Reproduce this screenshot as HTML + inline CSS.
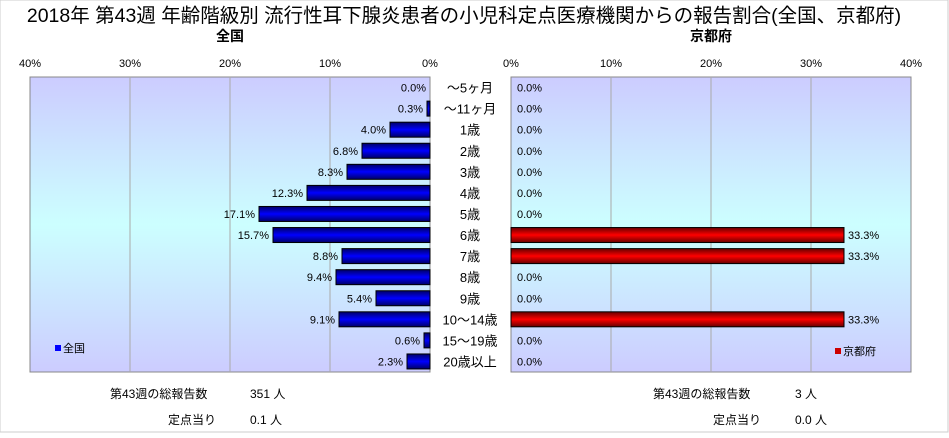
<!DOCTYPE html>
<html><head><meta charset="utf-8"><style>
body{margin:0;background:#fff;font-family:"Liberation Sans","Noto Sans CJK JP",sans-serif;}
svg text{font-family:"Liberation Sans","Noto Sans CJK JP",sans-serif;}
</style></head><body>
<svg id="c" width="949" height="433" xmlns="http://www.w3.org/2000/svg">
<defs>
<linearGradient id="bg" x1="0" y1="0" x2="0" y2="1"><stop offset="0" stop-color="#ccccff"/><stop offset="0.5" stop-color="#ccffff"/><stop offset="1" stop-color="#ccccff"/></linearGradient>
<linearGradient id="gb" x1="0" y1="0" x2="0" y2="1"><stop offset="0" stop-color="#000066"/><stop offset="0.5" stop-color="#0000ff"/><stop offset="1" stop-color="#000066"/></linearGradient>
<linearGradient id="gr" x1="0" y1="0" x2="0" y2="1"><stop offset="0" stop-color="#660000"/><stop offset="0.5" stop-color="#ff0000"/><stop offset="1" stop-color="#660000"/></linearGradient>
</defs>
<rect x="0" y="0" width="948" height="432" fill="#fff" stroke="#ccc"/>
<text x="464" y="22" font-size="19.5" text-anchor="middle">2018年 第43週 年齢階級別 流行性耳下腺炎患者の小児科定点医療機関からの報告割合(全国、京都府)</text>
<text x="230" y="41" font-size="14" text-anchor="middle" font-weight="bold">全国</text>
<text x="711" y="41" font-size="14" text-anchor="middle" font-weight="bold">京都府</text>
<rect x="30" y="77" width="400" height="295" fill="url(#bg)" stroke="#888"/>
<rect x="511" y="77" width="400" height="295" fill="url(#bg)" stroke="#888"/>
<g id="g"></g>
<rect x="55" y="345" width="6" height="6" fill="#0000ff"/>
<text x="63" y="352" font-size="11">全国</text>
<rect x="835" y="348" width="6" height="6" fill="#cc0000"/>
<text x="843" y="355" font-size="11">京都府</text>
<text x="110" y="398" font-size="12">第43週の総報告数</text>
<text x="250" y="398" font-size="12">351 人</text>
<text x="168" y="424" font-size="12">定点当り</text>
<text x="250" y="424" font-size="12">0.1 人</text>
<text x="653" y="398" font-size="12">第43週の総報告数</text>
<text x="795" y="398" font-size="12">3 人</text>
<text x="713" y="424" font-size="12">定点当り</text>
<text x="795" y="424" font-size="12">0.0 人</text>
</svg>
<script>
const categories=["～5ヶ月","～11ヶ月","1歳","2歳","3歳","4歳","5歳","6歳","7歳","8歳","9歳","10～14歳","15～19歳","20歳以上"];
const national=[0.0,0.3,4.0,6.8,8.3,12.3,17.1,15.7,8.8,9.4,5.4,9.1,0.6,2.3];
const kyoto=[0,0,0,0,0,0,0,33.3,33.3,0,0,33.3,0,0];
const ticks=[0,10,20,30,40];
(function(){
const NS="http://www.w3.org/2000/svg";
const g=document.getElementById('g');
const L0=430,R0=511,S=10,plotTop=77,rowH=295/14;
const xl=v=>L0-v*S, xr=v=>R0+v*S, yc=i=>plotTop+rowH*(i+0.5);
function mk(t,a,txt){const e=document.createElementNS(NS,t);for(const k in a)e.setAttribute(k,a[k]);if(txt!==undefined)e.textContent=txt;g.appendChild(e);return e;}
ticks.forEach(t=>{
 if(t>0&&t<40){
  let l=mk('line',{x1:xl(t),x2:xl(t),y1:plotTop,y2:372,stroke:'#aaa'});
  
  
  l=mk('line',{x1:xr(t),x2:xr(t),y1:plotTop,y2:372,stroke:'#aaa'});
  
  
 }
 let a=mk('text',{x:xl(t),y:67,'font-size':11,'text-anchor':'middle'},t+'%');
 
 
 a=mk('text',{x:xr(t),y:67,'font-size':11,'text-anchor':'middle'},t+'%');
 
 
});
const w=mk('rect',{x:431,y:78,width:79,height:300,fill:'#fff'});


categories.forEach((c,i)=>{
 const y=yc(i),h=15;
 const v=national[i];
 if(v>0){const b=mk('rect',{x:xl(v),y:y-h/2,width:v*S,height:h,fill:'url(#gb)',stroke:'#000'});
  
  }
 let t=mk('text',{x:xl(v)-4,y:y+4,'font-size':11,'text-anchor':'end'},v.toFixed(1)+'%');
 
 
 const k=kyoto[i];
 if(k>0){const b=mk('rect',{x:R0,y:y-h/2,width:k*S,height:h,fill:'url(#gr)',stroke:'#000'});
  
  }
 t=mk('text',{x:k>0?xr(k)+4:R0+6,y:y+4,'font-size':11},k.toFixed(1)+'%');
 
 
 t=mk('text',{x:470,y:y+5,'font-size':13,'text-anchor':'middle'},c);
 
 
});
})();
</script>
</body></html>
